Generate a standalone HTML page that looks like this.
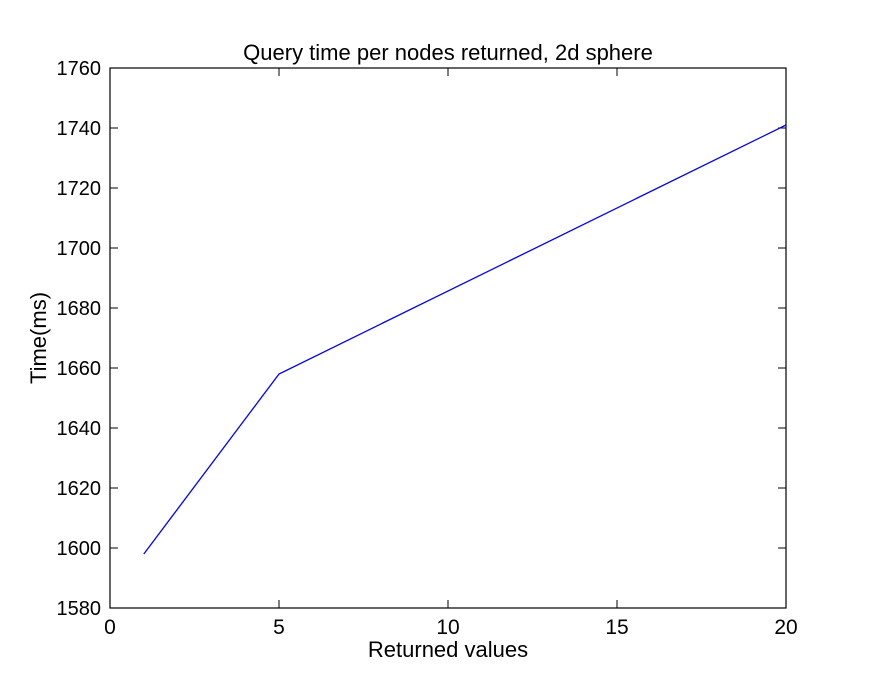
<!DOCTYPE html>
<html><head><meta charset="utf-8"><style>
body{margin:0;background:#fff;}
svg{display:block;font-family:"Liberation Sans",sans-serif;}
</style></head><body>
<svg id="chart" width="873" height="676">
<rect x="0" y="0" width="873" height="676" fill="#fff"/>
<text x="448" y="60" font-size="22" text-anchor="middle">Query time per nodes returned, 2d sphere</text>
<text x="448" y="657" font-size="22" text-anchor="middle">Returned values</text>
<text transform="translate(46,338) rotate(-90)" font-size="22" text-anchor="middle">Time(ms)</text>
<g id="ticks"></g>
<polyline id="series" fill="none" stroke="#0000ff" stroke-width="1.3"/>
<rect x="110" y="68" width="676" height="540" fill="none" stroke="#000" stroke-width="1.2"/>
</svg>
<script>
const xValues=[1,5,20];
const yValues=[1598,1658,1741];
const xTicks=[0,5,10,15,20];
const yTicks=[1580,1600,1620,1640,1660,1680,1700,1720,1740,1760];
const L=110,R=786,T=68,B=608;
function sx(v){return L+(v-0)/(20-0)*(R-L);}
function sy(v){return B-(v-1580)/(1760-1580)*(B-T);}
const NS="http://www.w3.org/2000/svg";
const g=document.getElementById('ticks');
function ln(x1,y1,x2,y2){const l=document.createElementNS(NS,'line');l.setAttribute('x1',x1);l.setAttribute('y1',y1);l.setAttribute('x2',x2);l.setAttribute('y2',y2);l.setAttribute('stroke','#000');l.setAttribute('stroke-width','1');


g.appendChild(l);}
xTicks.forEach(t=>{const x=sx(t);ln(x,B,x,B-8);ln(x,T,x,T+8);
const tx=document.createElementNS(NS,'text');tx.setAttribute('x',x);tx.setAttribute('y',B+26);tx.setAttribute('font-size','21');tx.setAttribute('text-anchor','middle');tx.textContent=t;


g.appendChild(tx);});
yTicks.forEach(t=>{const y=sy(t);ln(L,y,L+8,y);ln(R,y,R-8,y);
const tx=document.createElementNS(NS,'text');tx.setAttribute('x',L-9);tx.setAttribute('y',y+7);tx.setAttribute('font-size','20');tx.setAttribute('text-anchor','end');tx.textContent=t;


g.appendChild(tx);});
document.getElementById('series').setAttribute('points',xValues.map((x,i)=>sx(x)+','+sy(yValues[i])).join(' '));
</script>
</body></html>
